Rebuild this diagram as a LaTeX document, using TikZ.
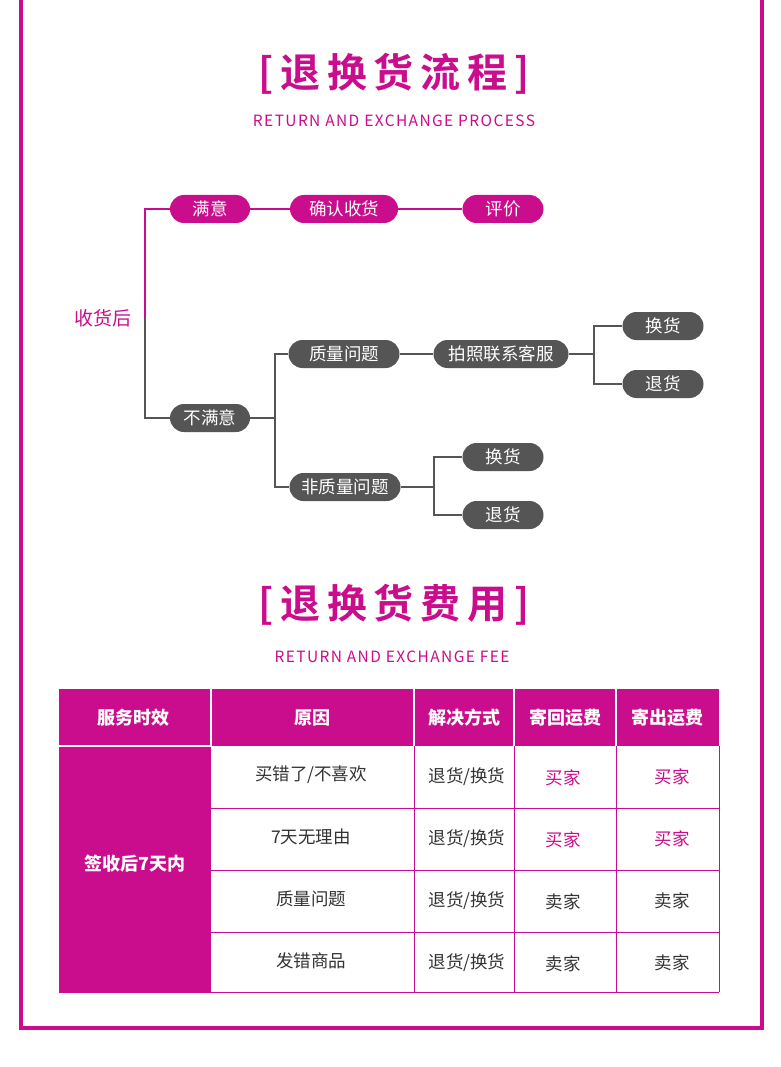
\documentclass[tikz,border=0pt]{standalone}
\usepackage{fontspec}
\setmainfont{Noto Sans CJK SC}
\newfontfamily\spacedfont[LetterSpace=9]{Noto Sans CJK SC}
\newfontfamily\titlefont[LetterSpace=17]{Noto Sans CJK SC Bold}
\definecolor{rose}{HTML}{CA0D8C}
\definecolor{slate}{HTML}{555555}
\definecolor{ink}{HTML}{333333}
\tikzset{
  pill/.style={rectangle, rounded corners=14pt, minimum height=28pt, inner sep=0pt,
    text=white, font=\fontsize{17.5}{18}\selectfont},
  rosepill/.style={pill, fill=rose},
  slatepill/.style={pill, fill=slate},
  link/.style={line width=2pt, slate},
  roselink/.style={line width=2pt, rose},
  bigtitle/.style={text=rose, font=\titlefont\fontsize{40}{42}\selectfont},
  subtitle/.style={text=rose, font=\spacedfont\fontsize{15.5}{16}\selectfont},
  celltext/.style={text=ink, font=\fontsize{17.5}{18}\selectfont},
  headtext/.style={text=white, font=\fontsize{18}{20}\selectfont\bfseries}
}
\begin{document}
\begin{tikzpicture}[x=1pt, y=-1pt]
  \useasboundingbox (0,0) rectangle (780,1067);
  \clip (0,0) rectangle (780,1067);
  \fill[white] (0,0) rectangle (780,1067);
  % frame
  \draw[rose, line width=3.5pt] (21,-5) -- (21,1028) -- (762,1028) -- (762,-5);

  % titles
  \node[bigtitle] (title1) at (394,74) {[退换货流程]};
  \node[subtitle] (sub1) at (394,121) {RETURN AND EXCHANGE PROCESS};
  \node[bigtitle] (title2) at (394,605) {[退换货费用]};
  \node[subtitle] (sub2) at (392,657) {RETURN AND EXCHANGE FEE};

  % flow
  \node[text=rose, font=\fontsize{19}{20}\selectfont] (after) at (103,318) {收货后};
  \coordinate (fork) at (145,318);
  \node[rosepill, minimum width=80pt] (pleased) at (210,209) {满意};
  \node[rosepill, minimum width=108pt] (confirm) at (344,209) {确认收货};
  \node[rosepill, minimum width=81pt] (review) at (503,209) {评价};
  \node[slatepill, minimum width=80pt] (unpleased) at (210,418) {不满意};
  \node[slatepill, minimum width=111pt] (quality) at (344,354) {质量问题};
  \node[slatepill, minimum width=135pt] (photo) at (501,354) {拍照联系客服};
  \node[slatepill, minimum width=81pt] (swapA) at (663,326) {换货};
  \node[slatepill, minimum width=81pt] (backA) at (663,384) {退货};
  \node[slatepill, minimum width=111pt] (nonquality) at (345,487) {非质量问题};
  \node[slatepill, minimum width=81pt] (swapB) at (503,457) {换货};
  \node[slatepill, minimum width=81pt] (backB) at (503,515) {退货};
  \coordinate (j1) at (275,418);
  \coordinate (j2) at (594,354);
  \coordinate (j3) at (434,487);

  \draw[roselink] (fork) |- (pleased);
  \draw[roselink] (pleased) -- (confirm) (confirm) -- (review);
  \draw[link] (fork) |- (unpleased);
  \draw[link] (unpleased) -- (j1) |- (quality);
  \draw[link] (j1) |- (nonquality);
  \draw[link] (quality) -- (photo) (photo) -- (j2) |- (swapA);
  \draw[link] (j2) |- (backA);
  \draw[link] (nonquality) -- (j3) |- (swapB);
  \draw[link] (j3) |- (backB);

  % fee table
  \fill[rose] (59,689) rectangle (719,746);
  \fill[rose] (59,746) rectangle (211,992);
  \foreach \x in {211,414,514,616} \draw[white, line width=1.2pt] (\x,689) -- (\x,746);
  \draw[white, line width=1.2pt] (59,746) -- (211,746);
  \foreach \y in {808,870,932} \draw[rose, line width=1pt] (211,\y) -- (719,\y);
  \foreach \x in {414,514,616,719} \draw[rose, line width=1pt] (\x,746) -- (\x,992);
  \draw[rose, line width=1pt] (59,992) -- (719,992);

  \foreach \txt [count=\i] / \x in {服务时效/133, 原因/312, 解决方式/464, 寄回运费/565, 寄出运费/667}
    \node[headtext] (head\i) at (\x,718) {\txt};
  \node[headtext] (span) at (135,864) {签收后7天内};

  \foreach \why / \who [count=\r] in {{买错了/不喜欢}/rose, 7天无理由/rose, 质量问题/ink, 发错商品/ink}{
    \pgfmathsetmacro{\yy}{777+62*(\r-1)}
    \node[celltext] (why\r) at (311,\yy-2) {\why};
    \node[celltext] (fix\r) at (467,\yy) {退货/换货};
    \ifnum\r<3
      \node[celltext, text=rose] (back\r) at (563,\yy+1) {买家};
      \node[celltext, text=rose] (out\r) at (672,\yy) {买家};
    \else
      \node[celltext] (back\r) at (563,\yy+1) {卖家};
      \node[celltext] (out\r) at (672,\yy) {卖家};
    \fi
  }
\end{tikzpicture}
\end{document}
